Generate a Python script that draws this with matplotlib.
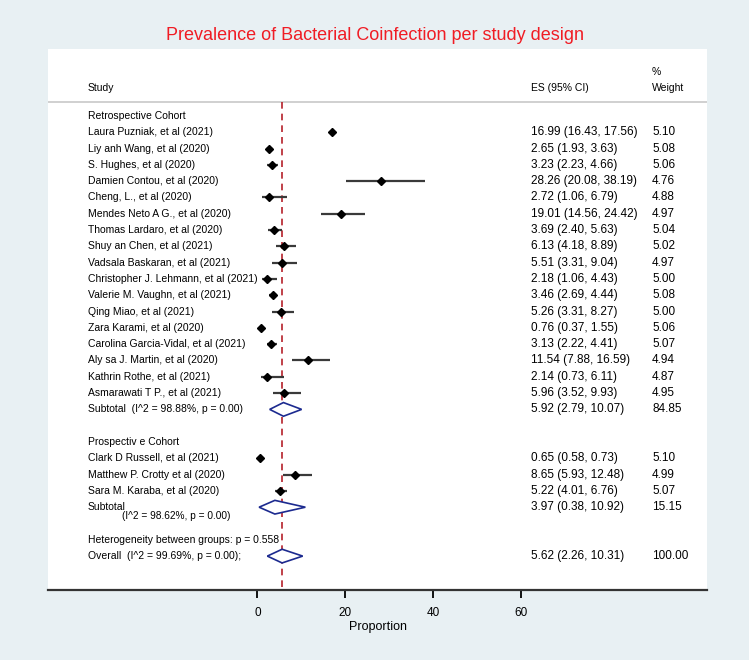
import matplotlib.pyplot as plt
from matplotlib.patches import Polygon

plt.rcParams["font.family"] = ["Liberation Sans", "DejaVu Sans"]

# studies per group
retro_studies = [
    "Laura Puzniak, et al (2021)", "Liy anh Wang, et al (2020)", "S. Hughes, et al (2020)",
    "Damien Contou, et al (2020)", "Cheng, L., et al (2020)", "Mendes Neto A G., et al (2020)",
    "Thomas Lardaro, et al (2020)", "Shuy an Chen, et al (2021)", "Vadsala Baskaran, et al (2021)",
    "Christopher J. Lehmann, et al (2021)", "Valerie M. Vaughn, et al (2021)", "Qing Miao, et al (2021)",
    "Zara Karami, et al (2020)", "Carolina Garcia-Vidal, et al (2021)", "Aly sa J. Martin, et al (2020)",
    "Kathrin Rothe, et al (2021)", "Asmarawati T P., et al (2021)",
]
retro_es = [16.99, 2.65, 3.23, 28.26, 2.72, 19.01, 3.69, 6.13, 5.51, 2.18, 3.46, 5.26, 0.76, 3.13, 11.54, 2.14, 5.96]
retro_lo = [16.43, 1.93, 2.23, 20.08, 1.06, 14.56, 2.40, 4.18, 3.31, 1.06, 2.69, 3.31, 0.37, 2.22, 7.88, 0.73, 3.52]
retro_hi = [17.56, 3.63, 4.66, 38.19, 6.79, 24.42, 5.63, 8.89, 9.04, 4.43, 4.44, 8.27, 1.55, 4.41, 16.59, 6.11, 9.93]
retro_w = [5.10, 5.08, 5.06, 4.76, 4.88, 4.97, 5.04, 5.02, 4.97, 5.00, 5.08, 5.00, 5.06, 5.07, 4.94, 4.87, 4.95]

pro_studies = ["Clark D Russell, et al (2021)", "Matthew P. Crotty et al (2020)", "Sara M. Karaba, et al (2020)"]
pro_es = [0.65, 8.65, 5.22]
pro_lo = [0.58, 5.93, 4.01]
pro_hi = [0.73, 12.48, 6.76]
pro_w = [5.10, 4.99, 5.07]

# pooled estimates: retrospective subtotal, prospective subtotal, overall
pooled_es = [5.92, 3.97, 5.62]
pooled_lo = [2.79, 0.38, 2.26]
pooled_hi = [10.07, 10.92, 10.31]
pooled_w = [84.85, 15.15, 100.00]
pooled_i2 = [98.88, 98.62, 99.69]
het_p = 0.558

xticks = [0, 20, 40, 60]

fig = plt.figure(figsize=(7.49, 6.60), dpi=100, facecolor="#e8f0f3")
ax = fig.add_axes([48 / 749, 1 - 590 / 660, 659 / 749, 541 / 660])
ax.set_facecolor("white")
ax.set_xlim(-47.7, 102.4)
ax.set_ylim(29.08, -4.11)

X_LABEL, X_ES, X_W = -38.6, 62.3, 89.9
fs = 7.5
fs_num = 8.5


def study_row(y, name, es, lo, hi, w):
    ax.text(X_LABEL, y, name, fontsize=fs, va="center")
    ax.plot([lo, hi], [y, y], color="#3a3a3a", lw=1.6, solid_capstyle="butt", zorder=3)
    ax.plot(es, y, marker="D", ms=4.2, color="black", zorder=4)
    ax.text(X_ES, y, f"{es:.2f} ({lo:.2f}, {hi:.2f})", fontsize=fs_num, va="center")
    ax.text(X_W, y, f"{w:.2f}", fontsize=fs_num, va="center")


def diamond(y, es, lo, hi):
    h = 0.42
    ax.add_patch(Polygon([(lo, y), (es, y - h), (hi, y), (es, y + h)], closed=True,
                         facecolor="white", edgecolor="#1c2a8f", lw=1.2, zorder=4))


# header
ax.text(X_LABEL, -1.72, "Study", fontsize=fs, va="center")
ax.text(X_ES, -1.72, "ES (95% CI)", fontsize=fs, va="center")
ax.text(X_W, -2.7, "%", fontsize=fs, va="center")
ax.text(X_W, -1.72, "Weight", fontsize=fs, va="center")
ax.axhline(-0.86, color="#c8c8c8", lw=1.2)

# retrospective group
ax.text(X_LABEL, 0, "Retrospective Cohort", fontsize=fs, va="center")
for i in range(len(retro_studies)):
    study_row(i + 1, retro_studies[i], retro_es[i], retro_lo[i], retro_hi[i], retro_w[i])
y = len(retro_studies) + 1
ax.text(X_LABEL, y, f"Subtotal  (I^2 = {pooled_i2[0]:.2f}%, p = 0.00)", fontsize=fs, va="center")
diamond(y, pooled_es[0], pooled_lo[0], pooled_hi[0])
ax.text(X_ES, y, f"{pooled_es[0]:.2f} ({pooled_lo[0]:.2f}, {pooled_hi[0]:.2f})", fontsize=fs_num, va="center")
ax.text(X_W, y, f"{pooled_w[0]:.2f}", fontsize=fs_num, va="center")

# prospective group
y0 = y + 2
ax.text(X_LABEL, y0, "Prospectiv e Cohort", fontsize=fs, va="center")
for i in range(len(pro_studies)):
    study_row(y0 + i + 1, pro_studies[i], pro_es[i], pro_lo[i], pro_hi[i], pro_w[i])
y = y0 + len(pro_studies) + 1
ax.text(X_LABEL, y, "Subtotal", fontsize=fs, va="center")
ax.text(-30.8, y + 0.55, f"(I^2 = {pooled_i2[1]:.2f}%, p = 0.00)", fontsize=7.3, va="center")
diamond(y, pooled_es[1], pooled_lo[1], pooled_hi[1])
ax.text(X_ES, y, f"{pooled_es[1]:.2f} ({pooled_lo[1]:.2f}, {pooled_hi[1]:.2f})", fontsize=fs_num, va="center")
ax.text(X_W, y, f"{pooled_w[1]:.2f}", fontsize=fs_num, va="center")

# overall
y = y + 2
ax.text(X_LABEL, y, f"Heterogeneity between groups: p = {het_p:.3f}", fontsize=fs, va="center", zorder=5)
y = y + 1
ax.text(X_LABEL, y, f"Overall  (I^2 = {pooled_i2[2]:.2f}%, p = 0.00);", fontsize=fs, va="center")
diamond(y, pooled_es[2], pooled_lo[2], pooled_hi[2])
ax.text(X_ES, y, f"{pooled_es[2]:.2f} ({pooled_lo[2]:.2f}, {pooled_hi[2]:.2f})", fontsize=fs_num, va="center")
ax.text(X_W, y, f"{pooled_w[2]:.2f}", fontsize=fs_num, va="center")

# reference line at overall estimate
ax.plot([pooled_es[2], pooled_es[2]], [-0.86, 29.08], color="#b5202a", lw=1.2,
        dashes=(4, 3), zorder=2)

for side in ["top", "left", "right"]:
    ax.spines[side].set_visible(False)
ax.spines["bottom"].set_color("#333333")
ax.spines["bottom"].set_linewidth(1.6)
ax.set_yticks([])
ax.set_xticks(xticks)
ax.tick_params(axis="x", length=6, width=1.3, labelsize=8.5, pad=6)
ax.set_xlabel("Proportion", fontsize=9, labelpad=2)

fig.text(0.5, 1 - 35 / 660, "Prevalence of Bacterial Coinfection per study design",
         color="#f01c24", fontsize=13, ha="center", va="center")

plt.savefig("out.png", dpi=100, facecolor=fig.get_facecolor())
